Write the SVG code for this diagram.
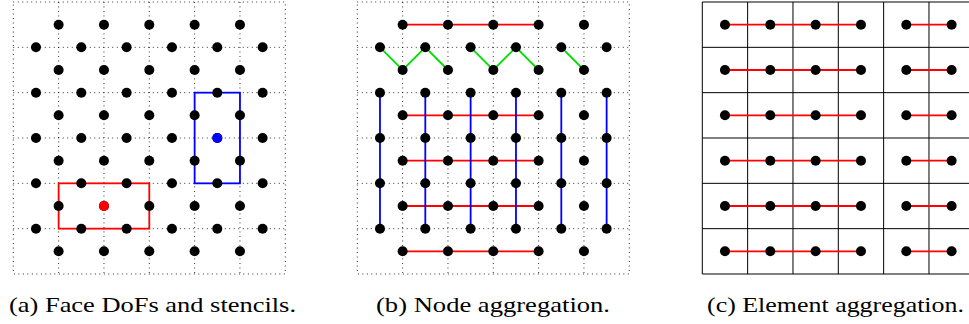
<svg xmlns="http://www.w3.org/2000/svg" width="969" height="324" viewBox="0 0 969 324">
<style>
.dotgrid{stroke:#000;stroke-width:0.9;stroke-dasharray:0.9 3.6;fill:none}
.solidgrid{stroke:#000;stroke-width:1;fill:none}
.red{stroke:#ff0000;stroke-width:1.8;fill:none}
.blue{stroke:#0000ff;stroke-width:1.8;fill:none}
.green{stroke:#00e000;stroke-width:1.8;fill:none}
.cap{font-size:22px;fill:#000}
</style>
<defs>
<circle id="dot" r="5" fill="#000"/>
<path id="dgrid" class="dotgrid" d="M0,0H272V272H0Z M45.33,0V272 M90.67,0V272 M136,0V272 M181.33,0V272 M226.67,0V272 M0,45.33H272 M0,90.67H272 M0,136H272 M0,181.33H272 M0,226.67H272"/>
<g id="facedots">
<use href="#dot" x="45.33" y="22.67"/><use href="#dot" x="90.67" y="22.67"/><use href="#dot" x="136" y="22.67"/><use href="#dot" x="181.33" y="22.67"/><use href="#dot" x="226.67" y="22.67"/>
<use href="#dot" x="45.33" y="68"/><use href="#dot" x="90.67" y="68"/><use href="#dot" x="136" y="68"/><use href="#dot" x="181.33" y="68"/><use href="#dot" x="226.67" y="68"/>
<use href="#dot" x="45.33" y="113.33"/><use href="#dot" x="90.67" y="113.33"/><use href="#dot" x="136" y="113.33"/><use href="#dot" x="181.33" y="113.33"/><use href="#dot" x="226.67" y="113.33"/>
<use href="#dot" x="45.33" y="158.67"/><use href="#dot" x="90.67" y="158.67"/><use href="#dot" x="136" y="158.67"/><use href="#dot" x="181.33" y="158.67"/><use href="#dot" x="226.67" y="158.67"/>
<use href="#dot" x="45.33" y="204"/><use href="#dot" x="90.67" y="204"/><use href="#dot" x="136" y="204"/><use href="#dot" x="181.33" y="204"/><use href="#dot" x="226.67" y="204"/>
<use href="#dot" x="45.33" y="249.33"/><use href="#dot" x="90.67" y="249.33"/><use href="#dot" x="136" y="249.33"/><use href="#dot" x="181.33" y="249.33"/><use href="#dot" x="226.67" y="249.33"/>
<use href="#dot" x="22.67" y="45.33"/><use href="#dot" x="68" y="45.33"/><use href="#dot" x="113.33" y="45.33"/><use href="#dot" x="158.67" y="45.33"/><use href="#dot" x="204" y="45.33"/><use href="#dot" x="249.33" y="45.33"/>
<use href="#dot" x="22.67" y="90.67"/><use href="#dot" x="68" y="90.67"/><use href="#dot" x="113.33" y="90.67"/><use href="#dot" x="158.67" y="90.67"/><use href="#dot" x="204" y="90.67"/><use href="#dot" x="249.33" y="90.67"/>
<use href="#dot" x="22.67" y="136"/><use href="#dot" x="68" y="136"/><use href="#dot" x="113.33" y="136"/><use href="#dot" x="158.67" y="136"/><use href="#dot" x="204" y="136"/><use href="#dot" x="249.33" y="136"/>
<use href="#dot" x="22.67" y="181.33"/><use href="#dot" x="68" y="181.33"/><use href="#dot" x="113.33" y="181.33"/><use href="#dot" x="158.67" y="181.33"/><use href="#dot" x="204" y="181.33"/><use href="#dot" x="249.33" y="181.33"/>
<use href="#dot" x="22.67" y="226.67"/><use href="#dot" x="68" y="226.67"/><use href="#dot" x="113.33" y="226.67"/><use href="#dot" x="158.67" y="226.67"/><use href="#dot" x="204" y="226.67"/><use href="#dot" x="249.33" y="226.67"/>
</g>
<g id="celldots">
<use href="#dot" x="22.67" y="0"/><use href="#dot" x="68" y="0"/><use href="#dot" x="113.33" y="0"/><use href="#dot" x="158.67" y="0"/><use href="#dot" x="204" y="0"/><use href="#dot" x="249.33" y="0"/>
</g>
</defs>
<rect width="969" height="324" fill="#fff"/>

<g id="panel-a" transform="translate(13.3,2)">
<use href="#dgrid"/>
<g id="stencils">
<rect id="stencil-red" class="red" x="45.33" y="181.33" width="90.67" height="45.33"/>
<rect id="stencil-blue" class="blue" x="181.33" y="90.67" width="45.33" height="90.67"/>
</g>
<g id="a-nodes">
<use href="#facedots"/>
<circle id="a-red-dof" cx="90.67" cy="204" r="5" fill="#ff0000"/>
<circle id="a-blue-dof" cx="204" cy="136" r="5" fill="#0000ff"/>
</g>
</g>

<g id="panel-b" transform="translate(357.3,2)">
<use href="#dgrid"/>
<g id="b-connectors">
<path class="red" d="M45.33,22.67H181.33 M45.33,113.33H181.33 M45.33,158.67H181.33 M45.33,204H181.33 M45.33,249.33H181.33"/>
<path class="green" d="M22.67,45.33L45.33,68L68,45.33L90.67,68 M113.33,45.33L136,68L158.67,45.33L181.33,68 M204,45.33L226.67,68"/>
<path class="blue" d="M22.67,90.67V226.67 M68,90.67V226.67 M113.33,90.67V226.67 M158.67,90.67V226.67 M204,90.67V226.67 M249.33,90.67V226.67"/>
</g>
<g id="b-nodes">
<use href="#facedots"/>
</g>
</g>

<g id="panel-c" transform="translate(702.3,2)">
<path class="solidgrid" d="M0,0H272V272H0Z M45.33,0V272 M90.67,0V272 M136,0V272 M181.33,0V272 M226.67,0V272 M0,45.33H272 M0,90.67H272 M0,136H272 M0,181.33H272 M0,226.67H272"/>
<g id="c-connectors">
<path class="red" d="M22.67,22.67H158.67 M204,22.67H249.33 M22.67,68H158.67 M204,68H249.33 M22.67,113.33H158.67 M204,113.33H249.33 M22.67,158.67H158.67 M204,158.67H249.33 M22.67,204H158.67 M204,204H249.33 M22.67,249.33H158.67 M204,249.33H249.33"/>
</g>
<g id="c-nodes">
<use href="#celldots" y="22.67"/>
<use href="#celldots" y="68"/>
<use href="#celldots" y="113.33"/>
<use href="#celldots" y="158.67"/>
<use href="#celldots" y="204"/>
<use href="#celldots" y="249.33"/>
</g>
</g>

<g id="captions" font-family="'Liberation Serif', 'DejaVu Serif', serif">
<text class="cap" x="9" y="312" textLength="287" lengthAdjust="spacingAndGlyphs">(a) Face DoFs and stencils.</text>
<text class="cap" x="376" y="312" textLength="234" lengthAdjust="spacingAndGlyphs">(b) Node aggregation.</text>
<text class="cap" x="707" y="312" textLength="257" lengthAdjust="spacingAndGlyphs">(c) Element aggregation.</text>
</g>
</svg>
